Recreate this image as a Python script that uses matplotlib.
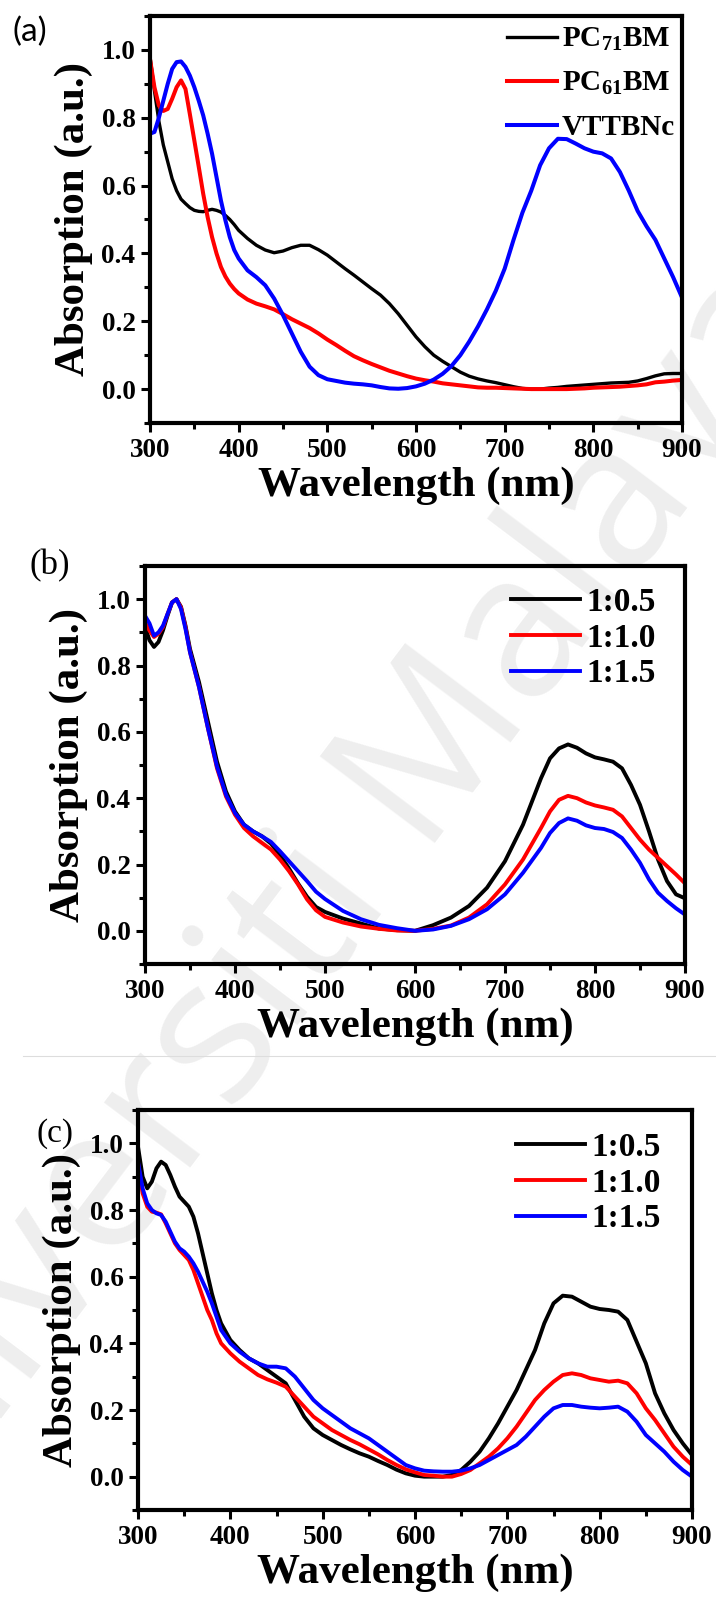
import matplotlib
matplotlib.use('Agg')
import matplotlib.pyplot as plt
from matplotlib.ticker import MultipleLocator, FormatStrFormatter
from matplotlib.lines import Line2D

plt.rcParams['font.family'] = ['Liberation Serif', 'DejaVu Serif']
plt.rcParams['font.weight'] = 'bold'
plt.rcParams['mathtext.fontset'] = 'custom'
plt.rcParams['mathtext.rm'] = 'Liberation Serif:bold'
plt.rcParams['mathtext.bf'] = 'Liberation Serif:bold'
plt.rcParams['mathtext.it'] = 'Liberation Serif:bold'
plt.rcParams['mathtext.default'] = 'bf'

# ---------------- data: panel (a) ----------------
wl_a = [300, 305, 310, 315, 320, 325, 330, 335, 340, 345, 350, 355, 360, 365, 370, 375,
        380, 385, 390, 395, 400, 410, 420, 430, 440, 450, 460, 470, 480, 490, 500, 510,
        520, 530, 540, 550, 560, 570, 580, 590, 600, 610, 620, 630, 640, 650, 660, 670,
        680, 690, 700, 710, 720, 730, 740, 750, 760, 770, 780, 790, 800, 810, 820, 830,
        840, 850, 860, 870, 880, 890, 900]
pc71bm = [0.98, 0.88, 0.79, 0.72, 0.67, 0.62, 0.585, 0.56, 0.547, 0.535, 0.527, 0.524, 0.523, 0.527, 0.53, 0.527,
          0.522, 0.512, 0.50, 0.485, 0.468, 0.444, 0.424, 0.41, 0.402, 0.407, 0.417, 0.424, 0.424, 0.411, 0.395, 0.375,
          0.355, 0.336, 0.316, 0.296, 0.277, 0.252, 0.222, 0.188, 0.154, 0.125, 0.10, 0.082, 0.066, 0.05, 0.038, 0.03,
          0.024, 0.019, 0.013, 0.007, 0.002, 0.0, 0.0, 0.003, 0.005, 0.008, 0.01, 0.012, 0.014, 0.016, 0.018, 0.019,
          0.02, 0.024, 0.031, 0.039, 0.045, 0.046, 0.046]
pc61bm = [0.973, 0.89, 0.836, 0.82, 0.826, 0.856, 0.89, 0.91, 0.885, 0.81, 0.733, 0.655, 0.576, 0.507, 0.448, 0.40,
          0.36, 0.332, 0.311, 0.295, 0.282, 0.264, 0.252, 0.244, 0.235, 0.221, 0.206, 0.193, 0.18, 0.164, 0.146, 0.13,
          0.113, 0.097, 0.085, 0.074, 0.064, 0.054, 0.046, 0.038, 0.031, 0.026, 0.022, 0.017, 0.014, 0.011, 0.008, 0.005,
          0.004, 0.004, 0.003, 0.002, 0.001, 0.0, 0.0, 0.0, 0.0, 0.0, 0.001, 0.002, 0.004, 0.005, 0.006, 0.007,
          0.009, 0.011, 0.014, 0.02, 0.022, 0.025, 0.027]
vttbnc = [0.753, 0.758, 0.80, 0.85, 0.90, 0.944, 0.964, 0.966, 0.95, 0.924, 0.89, 0.85, 0.807, 0.753, 0.694, 0.625,
          0.556, 0.498, 0.448, 0.41, 0.385, 0.35, 0.33, 0.306, 0.267, 0.218, 0.164, 0.11, 0.066, 0.041, 0.029, 0.024,
          0.019, 0.016, 0.014, 0.011, 0.006, 0.002, 0.001, 0.003, 0.008, 0.016, 0.028, 0.045, 0.068, 0.10, 0.14, 0.185,
          0.235, 0.29, 0.355, 0.44, 0.52, 0.585, 0.66, 0.71, 0.738, 0.737, 0.724, 0.71, 0.70, 0.695, 0.68, 0.64,
          0.585, 0.525, 0.48, 0.44, 0.385, 0.33, 0.27]

# ---------------- data: panel (b) ----------------
wl_b = [300, 305, 310, 315, 320, 325, 330, 335, 340, 345, 350, 360, 370, 380, 390, 400,
        410, 420, 430, 440, 450, 460, 470, 480, 490, 500, 520, 540, 560, 580, 600, 620,
        640, 660, 680, 700, 720, 740, 750, 760, 770, 780, 790, 800, 810, 820, 830, 840,
        850, 860, 870, 880, 890, 900]
b_05 = [0.917, 0.876, 0.856, 0.871, 0.906, 0.95, 0.99, 1.0, 0.977, 0.92, 0.85, 0.75, 0.63, 0.51, 0.42, 0.36,
        0.32, 0.30, 0.285, 0.263, 0.228, 0.188, 0.143, 0.103, 0.072, 0.057, 0.037, 0.022, 0.007, 0.002, 0.0, 0.017,
        0.04, 0.075, 0.13, 0.21, 0.32, 0.46, 0.52, 0.55, 0.562, 0.552, 0.535, 0.523, 0.517, 0.51, 0.49, 0.44,
        0.38, 0.30, 0.215, 0.15, 0.11, 0.098]
b_10 = [0.93, 0.905, 0.886, 0.896, 0.916, 0.955, 0.99, 1.0, 0.975, 0.915, 0.84, 0.735, 0.61, 0.49, 0.405, 0.35,
        0.31, 0.285, 0.265, 0.245, 0.215, 0.18, 0.14, 0.095, 0.062, 0.042, 0.025, 0.013, 0.006, 0.001, 0.0, 0.006,
        0.016, 0.04, 0.08, 0.14, 0.215, 0.31, 0.36, 0.395, 0.407, 0.40, 0.387, 0.378, 0.372, 0.365, 0.345, 0.31,
        0.275, 0.245, 0.22, 0.195, 0.17, 0.143]
b_15 = [0.95, 0.927, 0.89, 0.90, 0.92, 0.955, 0.99, 1.0, 0.97, 0.91, 0.84, 0.735, 0.61, 0.495, 0.41, 0.355,
        0.32, 0.30, 0.285, 0.268, 0.24, 0.21, 0.18, 0.15, 0.118, 0.096, 0.06, 0.035, 0.018, 0.008, 0.0, 0.004,
        0.015, 0.035, 0.065, 0.11, 0.175, 0.25, 0.295, 0.325, 0.339, 0.332, 0.318, 0.31, 0.307, 0.298, 0.28, 0.245,
        0.205, 0.155, 0.115, 0.09, 0.068, 0.049]

# ---------------- data: panel (c) ----------------
wl_c = [300, 305, 310, 315, 320, 325, 330, 335, 340, 345, 350, 355, 360, 365, 370, 375,
        380, 385, 390, 400, 410, 420, 430, 440, 450, 460, 470, 480, 490, 500, 510, 520,
        530, 540, 550, 560, 570, 580, 590, 600, 610, 620, 630, 640, 650, 660, 670, 680,
        690, 700, 710, 720, 730, 740, 750, 760, 770, 780, 790, 800, 810, 820, 830, 840,
        850, 860, 870, 880, 890, 900]
c_05 = [0.99, 0.90, 0.865, 0.885, 0.925, 0.945, 0.935, 0.905, 0.87, 0.84, 0.825, 0.81, 0.78, 0.73, 0.67, 0.61,
        0.55, 0.50, 0.46, 0.41, 0.38, 0.355, 0.34, 0.32, 0.30, 0.28, 0.23, 0.18, 0.145, 0.125, 0.11, 0.095,
        0.082, 0.07, 0.06, 0.047, 0.035, 0.021, 0.01, 0.003, 0.0, 0.0, 0.0, 0.005, 0.02, 0.045, 0.075, 0.115,
        0.16, 0.21, 0.26, 0.32, 0.38, 0.46, 0.52, 0.543, 0.54, 0.525, 0.51, 0.503, 0.50, 0.495, 0.47, 0.405,
        0.34, 0.25, 0.19, 0.14, 0.10, 0.065]
c_10 = [0.94, 0.85, 0.81, 0.795, 0.792, 0.787, 0.76, 0.73, 0.70, 0.68, 0.665, 0.65, 0.62, 0.58, 0.54, 0.50,
        0.47, 0.43, 0.40, 0.37, 0.345, 0.325, 0.305, 0.292, 0.282, 0.27, 0.24, 0.21, 0.18, 0.16, 0.14, 0.125,
        0.11, 0.097, 0.082, 0.067, 0.05, 0.035, 0.022, 0.013, 0.005, 0.003, 0.0, 0.0, 0.008, 0.02, 0.04, 0.06,
        0.085, 0.115, 0.15, 0.19, 0.23, 0.26, 0.285, 0.305, 0.31, 0.305, 0.295, 0.29, 0.285, 0.288, 0.28, 0.25,
        0.205, 0.17, 0.13, 0.09, 0.06, 0.035]
c_15 = [0.945, 0.865, 0.82, 0.80, 0.79, 0.785, 0.765, 0.735, 0.705, 0.685, 0.675, 0.66, 0.64, 0.615, 0.585, 0.555,
        0.52, 0.48, 0.44, 0.40, 0.375, 0.355, 0.34, 0.33, 0.33, 0.325, 0.30, 0.265, 0.23, 0.205, 0.185, 0.165,
        0.145, 0.13, 0.115, 0.095, 0.075, 0.055, 0.035, 0.025, 0.018, 0.016, 0.015, 0.015, 0.018, 0.025, 0.035, 0.05,
        0.065, 0.08, 0.095, 0.12, 0.15, 0.18, 0.205, 0.215, 0.215, 0.21, 0.207, 0.205, 0.207, 0.21, 0.195, 0.165,
        0.125, 0.10, 0.075, 0.045, 0.02, 0.0]

labels_a = ['PC$_{71}$BM', 'PC$_{61}$BM', 'VTTBNc']
labels_bc = ['1:0.5', '1:1.0', '1:1.5']
colors = ['#000000', '#ff0000', '#0000ff']
x_label = 'Wavelength (nm)'
y_label = 'Absorption (a.u.)'

W, H = 716, 1598
fig = plt.figure(figsize=(W / 100, H / 100), dpi=100)
fig.patch.set_facecolor('white')


def make_axes(l, t, r, b):
    return fig.add_axes([l / W, 1 - b / H, (r - l) / W, (b - t) / H])


def style(ax):
    ax.set_facecolor('none')
    ax.set_xlim(300, 900)
    ax.set_ylim(-0.1, 1.1)
    ax.xaxis.set_major_locator(MultipleLocator(100))
    ax.xaxis.set_minor_locator(MultipleLocator(50))
    ax.yaxis.set_major_locator(MultipleLocator(0.2))
    ax.yaxis.set_minor_locator(MultipleLocator(0.1))
    ax.xaxis.set_major_formatter(FormatStrFormatter('%d'))
    ax.yaxis.set_major_formatter(FormatStrFormatter('%.1f'))
    ax.tick_params(which='both', direction='out', top=False, right=False, width=2.2)
    ax.tick_params(which='major', length=6.5, labelsize=19.5, pad=4,
                   labelfontfamily='Liberation Serif')
    ax.tick_params(which='minor', length=4)
    for s in ax.spines.values():
        s.set_linewidth(3)
    ax.set_xlabel(x_label, fontsize=31, fontweight='bold', labelpad=3)
    ax.set_ylabel(y_label, fontsize=31, fontweight='bold', labelpad=6)


def legend(ax, left_px, top_px, fs, hl, ls):
    ax.legend(loc='upper left', bbox_to_anchor=(left_px / W, 1 - top_px / H),
              bbox_transform=fig.transFigure, frameon=False,
              prop={'family': 'Liberation Serif', 'weight': 'bold', 'size': fs},
              handlelength=hl, handletextpad=0.18, labelspacing=ls,
              borderpad=0, borderaxespad=0)


# watermark and separator
fig.text(300 / W, 1 - 935 / H, 'Universiti Malaya', rotation=53, ha='center', va='center',
         rotation_mode='anchor', fontsize=145, color='#eeeeee', family='Open Sans',
         fontweight='normal', zorder=-5)
fig.add_artist(Line2D([23 / W, 1.0], [1 - 1056 / H, 1 - 1056 / H], color='#dddddd', lw=0.8))

# panel (a)
ax1 = make_axes(150, 16, 682, 423)
for ys, c, lab, lw in zip([pc71bm, pc61bm, vttbnc], colors, labels_a, [2.4, 2.9, 2.9]):
    ax1.plot(wl_a, ys, color=c, lw=lw, label=lab)
style(ax1)
legend(ax1, 507, 26, 21, 1.71, 0.58)

# panel (b)
ax2 = make_axes(145, 566, 685, 964)
for ys, c, lab in zip([b_05, b_10, b_15], colors, labels_bc):
    ax2.plot(wl_b, ys, color=c, lw=2.8, label=lab)
style(ax2)
legend(ax2, 511, 587, 24, 2.07, 0.14)

# panel (c)
ax3 = make_axes(138, 1110, 692, 1510)
for ys, c, lab in zip([c_05, c_10, c_15], colors, labels_bc):
    ax3.plot(wl_c, ys, color=c, lw=2.8, label=lab)
style(ax3)
legend(ax3, 516, 1132, 24, 2.07, 0.14)

# panel letters
fig.text(12 / W, 1 - 41 / H, '(a)', family='Lato', fontweight='normal', fontsize=24, va='baseline')
fig.text(30 / W, 1 - 574 / H, '(b)', fontweight='normal', fontsize=25, va='baseline')
fig.text(37 / W, 1 - 1142 / H, '(c)', fontweight='normal', fontsize=24, va='baseline')

fig.savefig('out.png', dpi=100)
